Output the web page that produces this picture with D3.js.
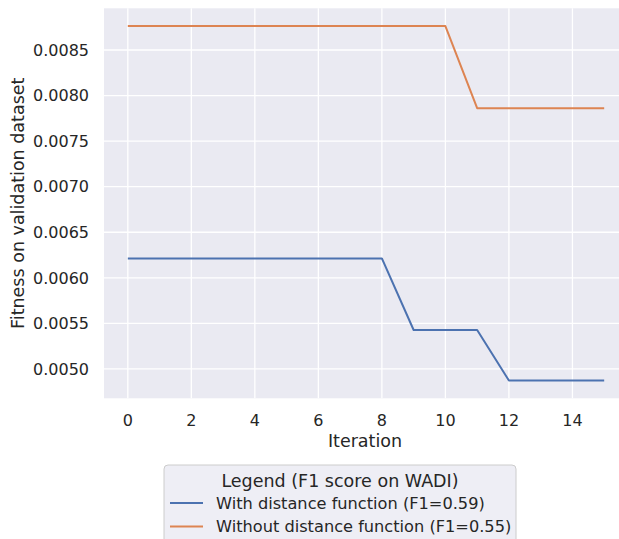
<!DOCTYPE html>
<html>
<head>
<meta charset="UTF-8">
<title>Fitness</title>
<script src="https://d3js.org/d3.v7.min.js"></script>
<style>
  body { margin: 0; background: #fff; }
  text { font-family: "DejaVu Sans", sans-serif; fill: #262626; }
</style>
</head>
<body>
<div id="chart"></div>
<script>
  const iterations = d3.range(0, 16);
  const withDistance = [0.006213, 0.006213, 0.006213, 0.006213, 0.006213, 0.006213, 0.006213, 0.006213, 0.006213,
                        0.005427, 0.005427, 0.005427, 0.004872, 0.004872, 0.004872, 0.004872];
  const withoutDistance = [0.008763, 0.008763, 0.008763, 0.008763, 0.008763, 0.008763, 0.008763, 0.008763, 0.008763,
                           0.008763, 0.008763, 0.007861, 0.007861, 0.007861, 0.007861, 0.007861];
  const xTicks = [0, 2, 4, 6, 8, 10, 12, 14];
  const yTicks = [0.0050, 0.0055, 0.0060, 0.0065, 0.0070, 0.0075, 0.0080, 0.0085];
  const seriesNames = ["With distance function (F1=0.59)", "Without distance function (F1=0.55)"];
  const colors = ["#4c72b0", "#dd8452"];

  const width = 619, height = 539;
  const pLeft = 104, pRight = 628, pTop = 8.3, pBottom = 398.3;

  const svg = d3.select("#chart").append("svg")
    .attr("width", width)
    .attr("height", height);

  // 5% margins like matplotlib
  const allY = withDistance.concat(withoutDistance);
  const ymin = d3.min(allY), ymax = d3.max(allY);
  const pad = (ymax - ymin) * 0.05;

  const x = d3.scaleLinear().domain([-0.75, 15.75]).range([pLeft, pRight]);
  const y = d3.scaleLinear().domain([ymin - pad, ymax + pad]).range([pBottom, pTop]);

  svg.append("rect")
    .attr("x", pLeft).attr("y", pTop)
    .attr("width", pRight - pLeft).attr("height", pBottom - pTop)
    .attr("fill", "#eaeaf2");

  // grid
  svg.append("g").selectAll("line").data(xTicks).join("line")
    .attr("x1", d => x(d)).attr("x2", d => x(d))
    .attr("y1", pTop).attr("y2", pBottom)
    .attr("stroke", "#fff").attr("stroke-width", 1.3);
  svg.append("g").selectAll("line").data(yTicks).join("line")
    .attr("x1", pLeft).attr("x2", pRight)
    .attr("y1", d => y(d)).attr("y2", d => y(d))
    .attr("stroke", "#fff").attr("stroke-width", 1.3);

  // tick labels
  svg.append("g").selectAll("text").data(xTicks).join("text")
    .attr("x", d => x(d)).attr("y", 426)
    .attr("text-anchor", "middle")
    .attr("font-size", 16)
    .text(d => d);
  svg.append("g").selectAll("text").data(yTicks).join("text")
    .attr("x", 89).attr("y", d => y(d) + 5.8)
    .attr("text-anchor", "end")
    .attr("font-size", 16)
    .text(d => d3.format(".4f")(d));

  svg.append("text")
    .attr("x", 365).attr("y", 447)
    .attr("text-anchor", "middle")
    .attr("font-size", 17.5)
    .text("Iteration");
  svg.append("text")
    .attr("transform", `translate(24, ${(pTop + pBottom) / 2}) rotate(-90)`)
    .attr("text-anchor", "middle")
    .attr("font-size", 17.5)
    .text("Fitness on validation dataset");

  const line = d3.line().x((d, i) => x(iterations[i])).y(d => y(d));
  [withDistance, withoutDistance].forEach((s, k) => {
    svg.append("path")
      .datum(s)
      .attr("d", line)
      .attr("fill", "none")
      .attr("stroke", colors[k])
      .attr("stroke-width", 2)
      .attr("stroke-linejoin", "round");
  });

  // legend
  const lg = svg.append("g");
  lg.append("rect")
    .attr("x", 164).attr("y", 465)
    .attr("width", 352).attr("height", 90)
    .attr("rx", 4)
    .attr("fill", "#eaeaf2").attr("fill-opacity", 0.8)
    .attr("stroke", "#cccccc").attr("stroke-width", 1);
  lg.append("text")
    .attr("x", 340).attr("y", 486.5)
    .attr("text-anchor", "middle")
    .attr("font-size", 17.5)
    .text("Legend (F1 score on WADI)");
  seriesNames.forEach((name, k) => {
    const yy = 503 + k * 23.5;
    lg.append("line")
      .attr("x1", 170).attr("x2", 203)
      .attr("y1", yy).attr("y2", yy)
      .attr("stroke", colors[k]).attr("stroke-width", 2);
    lg.append("text")
      .attr("x", 216).attr("y", yy + 5.8)
      .attr("font-size", 16.2)
      .text(name);
  });
</script>
</body>
</html>
